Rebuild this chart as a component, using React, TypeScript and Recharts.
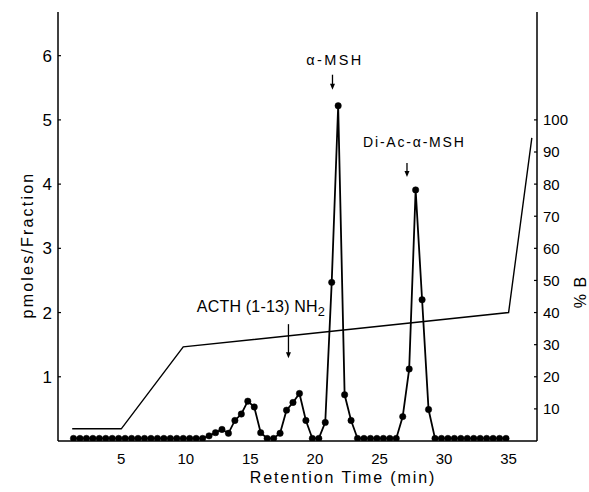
import React from 'react';
import { LineChart, Line, XAxis, YAxis, ReferenceDot, Label } from 'recharts';

const FONT = '"Liberation Sans", Arial, sans-serif';

// Fraction retention times (min) and measured pmoles/fraction
const fractionTimes = [
  1.3, 1.8, 2.3, 2.8, 3.3, 3.8, 4.3, 4.8, 5.3, 5.8, 6.3, 6.8, 7.3, 7.8, 8.3, 8.8, 9.3, 9.8, 10.3, 10.8,
  11.3, 11.8, 12.3, 12.8, 13.3, 13.8, 14.3, 14.8, 15.3, 15.8, 16.3, 16.8, 17.3, 17.8, 18.3, 18.8, 19.3, 19.8,
  20.3, 20.8, 21.3, 21.8, 22.3, 22.8, 23.3, 23.8, 24.3, 24.8, 25.3, 25.8, 26.3, 26.8, 27.3, 27.8, 28.3, 28.8,
  29.3, 29.8, 30.3, 30.8, 31.3, 31.8, 32.3, 32.8, 33.3, 33.8, 34.3, 34.8,
];
const pmolesPerFraction = [
  0.04, 0.04, 0.04, 0.04, 0.04, 0.04, 0.04, 0.04, 0.04, 0.04, 0.04, 0.04, 0.04, 0.04, 0.04, 0.04, 0.04, 0.04, 0.04, 0.04,
  0.04, 0.08, 0.13, 0.18, 0.12, 0.32, 0.42, 0.62, 0.53, 0.13, 0.04, 0.04, 0.12, 0.48, 0.6, 0.74, 0.32, 0.04,
  0.04, 0.29, 2.47, 5.22, 0.72, 0.32, 0.04, 0.04, 0.04, 0.04, 0.04, 0.04, 0.04, 0.38, 1.12, 3.91, 2.2, 0.49,
  0.04, 0.04, 0.04, 0.04, 0.04, 0.04, 0.04, 0.04, 0.04, 0.04, 0.04, 0.04,
];

// Gradient (% B)
const gradientTimes = [1.2, 5.0, 9.8, 35.0, 36.8];
const gradientPercentB = [3.8, 3.8, 29.3, 40, 94.4];

const xTicks = [5, 10, 15, 20, 25, 30, 35];
const leftTicks = [1, 2, 3, 4, 5, 6];
const rightTicks = [10, 20, 30, 40, 50, 60, 70, 80, 90, 100];

// Peak annotations (data coordinates, left axis units)
const arrowMarks = [
  { x: 21.36, tip: 5.47, len: 15 },
  { x: 27.13, tip: 4.11, len: 14 },
  { x: 17.95, tip: 1.29, len: 34 },
];
const peakLabels = [
  { text: 'α-MSH', x: 21.55, y: 5.93, anchor: 'middle', size: 14.5, spacing: 2.4 },
  { text: 'Di-Ac-α-MSH', x: 27.7, y: 4.66, anchor: 'middle', size: 14, spacing: 1.8 },
  { text: 'ACTH (1-13) NH', sub: '2', x: 10.85, y: 2.1, anchor: 'start', size: 16, spacing: 0.2 },
];

const peakData = fractionTimes.map((t, i) => ({ t, v: pmolesPerFraction[i] }));
const gradientData = gradientTimes.map((t, i) => ({ t, b: gradientPercentB[i] }));

const LeftTick = (props: any) => {
  const { x, y, payload } = props;
  return (
    <g>
      <line x1={x + 6} x2={x + 9} y1={y} y2={y} stroke="#000" strokeWidth={1.2} />
      <text x={x} y={y} dy="0.36em" textAnchor="end" fontFamily={FONT} fontSize={17} fill="#000">
        {payload.value}
      </text>
    </g>
  );
};

const RightTick = (props: any) => {
  const { x, y, payload } = props;
  return (
    <g>
      <line x1={x - 6} x2={x - 9} y1={y} y2={y} stroke="#000" strokeWidth={1.2} />
      <text x={x} y={y} dy="0.36em" textAnchor="start" fontFamily={FONT} fontSize={15} fill="#000">
        {payload.value}
      </text>
    </g>
  );
};

const BottomTick = (props: any) => {
  const { x, y, payload } = props;
  return (
    <text x={x} y={y} dy="0.71em" textAnchor="middle" fontFamily={FONT} fontSize={15} fill="#000">
      {payload.value}
    </text>
  );
};

const arrowShape = (len: number) => (props: any) => {
  const { cx, cy } = props;
  return (
    <g>
      <line x1={cx} x2={cx} y1={cy - len} y2={cy - 4} stroke="#000" strokeWidth={1.3} />
      <polygon points={`${cx - 2.5},${cy - 6} ${cx + 2.5},${cy - 6} ${cx},${cy}`} fill="#000" />
    </g>
  );
};

const labelShape = (l: any) => (props: any) => {
  const { cx, cy } = props;
  return (
    <text
      x={cx}
      y={cy}
      dy="0.36em"
      textAnchor={l.anchor}
      fontFamily={FONT}
      fontSize={l.size}
      letterSpacing={l.spacing}
      fill="#000"
    >
      {l.text}
      {l.sub ? (
        <tspan dy="0.35em" fontSize={l.size * 0.8}>
          {l.sub}
        </tspan>
      ) : null}
    </text>
  );
};

export default function App() {
  return (
    <div style={{ position: 'absolute', left: 0, top: 0, background: '#fff' }}>
      <LineChart width={589} height={492} margin={{ top: 12, right: 0, bottom: 0, left: 0 }}>
        <XAxis
          xAxisId="x"
          type="number"
          dataKey="t"
          domain={[0.1, 37.2]}
          ticks={xTicks}
          allowDataOverflow
          height={51}
          axisLine={{ stroke: '#000', strokeWidth: 1.5 }}
          tickLine={false}
          tickSize={0}
          tickMargin={12}
          tick={<BottomTick />}
        >
          <Label
            content={(p: any) => {
              const vb = p.viewBox;
              return (
                <text
                  x={vb.x + vb.width * 0.595}
                  y={vb.y + 42}
                  textAnchor="middle"
                  fontFamily={FONT}
                  fontSize={16}
                  letterSpacing={1.9}
                  fill="#000"
                >
                  Retention Time (min)
                </text>
              );
            }}
          />
        </XAxis>
        <XAxis
          xAxisId="top"
          orientation="top"
          type="number"
          domain={[0.1, 37.2]}
          height={0}
          tick={false}
          tickLine={false}
          axisLine={{ stroke: '#000', strokeWidth: 1.3 }}
        />
        <YAxis
          yAxisId="left"
          type="number"
          domain={[0, 6.68]}
          ticks={leftTicks}
          allowDataOverflow
          width={58}
          axisLine={{ stroke: '#000', strokeWidth: 1.5 }}
          tickLine={false}
          tickSize={0}
          tickMargin={6}
          tick={<LeftTick />}
        >
          <Label
            content={() => {
              const cx = 27;
              const cy = 245;
              return (
                <text
                  x={cx}
                  y={cy}
                  transform={`rotate(-90 ${cx} ${cy})`}
                  textAnchor="middle"
                  dy="0.36em"
                  fontFamily={FONT}
                  fontSize={16}
                  letterSpacing={2.2}
                  fill="#000"
                >
                  pmoles/Fraction
                </text>
              );
            }}
          />
        </YAxis>
        <YAxis
          yAxisId="right"
          orientation="right"
          type="number"
          domain={[0, 133.6]}
          ticks={rightTicks}
          allowDataOverflow
          width={52}
          axisLine={{ stroke: '#000', strokeWidth: 1.5 }}
          tickLine={false}
          tickSize={0}
          tickMargin={6}
          tick={<RightTick />}
        >
          <Label
            content={() => {
              const cx = 580;
              const cy = 292;
              return (
                <text
                  x={cx}
                  y={cy}
                  transform={`rotate(-90 ${cx} ${cy})`}
                  textAnchor="middle"
                  dy="0.36em"
                  fontFamily={FONT}
                  fontSize={16}
                  letterSpacing={1}
                  fill="#000"
                >
                  % B
                </text>
              );
            }}
          />
        </YAxis>

        <Line
          xAxisId="x"
          yAxisId="right"
          data={gradientData}
          dataKey="b"
          type="linear"
          stroke="#000"
          strokeWidth={1.4}
          dot={false}
          isAnimationActive={false}
        />
        <Line
          xAxisId="x"
          yAxisId="left"
          data={peakData}
          dataKey="v"
          type="linear"
          stroke="#000"
          strokeWidth={1.8}
          dot={{ r: 3.2, fill: '#000', stroke: '#000', strokeWidth: 0.5 }}
          isAnimationActive={false}
        />

        {arrowMarks.map((a, i) => (
          <ReferenceDot
            key={'a' + i}
            xAxisId="x"
            yAxisId="left"
            x={a.x}
            y={a.tip}
            r={0}
            shape={arrowShape(a.len)}
          />
        ))}
        {peakLabels.map((l, i) => (
          <ReferenceDot
            key={'l' + i}
            xAxisId="x"
            yAxisId="left"
            x={l.x}
            y={l.y}
            r={0}
            shape={labelShape(l)}
          />
        ))}
      </LineChart>
    </div>
  );
}
